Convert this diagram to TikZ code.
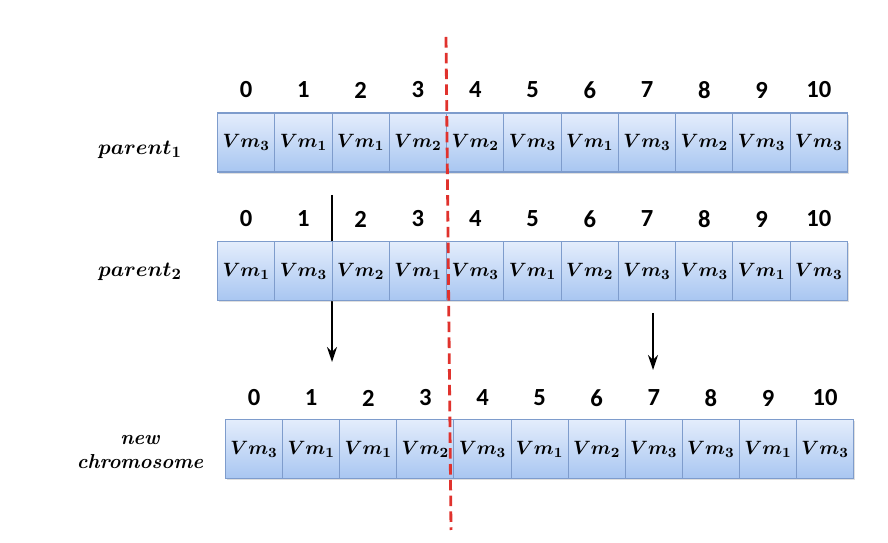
\documentclass[tikz,border=0pt]{standalone}
\usepackage{fontspec}
\usepackage{tikz}
\usetikzlibrary{arrows.meta, positioning, calc, shadows}
\newfontfamily\idxfont{Carlito}
\definecolor{cellTop}{RGB}{228, 237, 252}
\definecolor{cellBottom}{RGB}{168, 198, 241}
\definecolor{cellBorder}{RGB}{126, 156, 204}
\definecolor{cutRed}{RGB}{224, 50, 45}

\tikzset{
  vmcell/.style={draw=cellBorder, line width=0.6pt, top color=cellTop, bottom color=cellBottom,
    minimum width=1.1454cm, minimum height=1.18cm, inner sep=0pt, anchor=west,
    drop shadow={opacity=0.25, shadow xshift=0.6pt, shadow yshift=-1pt},
    font=\fontsize{10.8}{13}\selectfont\boldmath},
  idx/.style={font=\idxfont\fontsize{14}{16}\selectfont\bfseries},
  rowlabel/.style={font=\fontsize{12.5}{15}\selectfont\boldmath, align=center}
}

\begin{document}
\begin{tikzpicture}
    \useasboundingbox (0,0) rectangle (17.76,10.86);
    % Arrows (behind the cells)
    \coordinate (a1s) at (6.64, 6.96);
    \coordinate (a1e) at (6.64, 3.62);
    \coordinate (a2s) at (13.06, 4.60);
    \coordinate (a2e) at (13.06, 3.46);
    \draw[-{Stealth[length=3mm, width=2mm]}, line width=0.9pt] (a1s) -- (a1e);
    \draw[-{Stealth[length=3mm, width=2mm]}, line width=0.9pt] (a2s) -- (a2e);
    % parent 1
    \foreach \i/\v in {0/3, 1/1, 2/1, 3/2, 4/2, 5/3, 6/1, 7/3, 8/2, 9/3, 10/3} {
      \node[vmcell] (pa\i) at (4.34+\i*1.1454, 8.01) {$Vm_{\v}$};
      \node[idx] (ia\i) at ($(pa\i.center)+(0,1.05)$) {\i};
    }
    % parent 2
    \foreach \i/\v in {0/1, 1/3, 2/2, 3/1, 4/3, 5/1, 6/2, 7/3, 8/3, 9/1, 10/3} {
      \node[vmcell] (pb\i) at (4.34+\i*1.1454, 5.44) {$Vm_{\v}$};
      \node[idx] (ib\i) at ($(pb\i.center)+(0,1.04)$) {\i};
    }
    % new chromosome
    \foreach \i/\v in {0/3, 1/1, 2/1, 3/2, 4/3, 5/1, 6/2, 7/3, 8/3, 9/1, 10/3} {
      \node[vmcell, minimum width=1.142cm] (nc\i) at (4.50+\i*1.142, 1.88) {$Vm_{\v}$};
      \node[idx] (ic\i) at ($(nc\i.center)+(0,1.02)$) {\i};
    }
    % Row labels
    \node[rowlabel] (lp1) at (2.80, 7.86) {$parent_1$};
    \node[rowlabel] (lp2) at (2.80, 5.42) {$parent_2$};
    \node[rowlabel, font=\fontsize{11.5}{13.5}\selectfont\bfseries\itshape] (lnc) at (2.80, 1.82) {new\\chromosome};
    % Crossover point
    \coordinate (cuttop) at (8.92, 10.12);
    \coordinate (cutbot) at (9.02, 0.26);
    \draw[cutRed, line width=1.6pt, dash pattern=on 6pt off 3pt] (cuttop) -- (cutbot);
\end{tikzpicture}
\end{document}
